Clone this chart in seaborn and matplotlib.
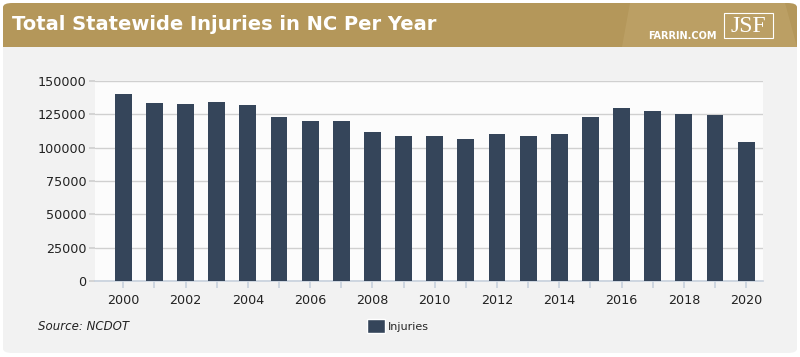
import numpy as np
import pandas as pd
import seaborn as sns
import matplotlib.pyplot as plt
from matplotlib.patches import FancyBboxPatch, Rectangle, Polygon, Patch

# =====================
# data
# =====================
years = [str(y) for y in range(2000, 2021)]
injuries = [140000, 133200, 132700, 134000, 132200, 123100, 119700, 119700,
            112100, 109100, 108600, 106300, 109900, 108400, 110100, 122700,
            129400, 127400, 125200, 124600, 104600]
y_ticks = [0, 25000, 50000, 75000, 100000, 125000, 150000]

title = 'Total Statewide Injuries in NC Per Year'
source = 'Source: NCDOT'
series_name = 'Injuries'

# colours
gold = '#B4975A'
panel = '#F2F2F2'
bar_col = '#35455A'
grid_col = '#D0D0D0'

df = pd.DataFrame({'year': years, 'injuries': injuries})

sns.set_theme(style='white')
plt.rcParams['font.family'] = ['DejaVu Sans']

W, H = 800, 357
fig = plt.figure(figsize=(W / 100, H / 100), dpi=100)
fig.patch.set_facecolor('white')

# rounded grey panel and gold header
fig.patches.append(FancyBboxPatch((3 / W, 4 / H), 794 / W, 350 / H,
                                  boxstyle='round,pad=0,rounding_size=0.012',
                                  transform=fig.transFigure, facecolor=panel,
                                  edgecolor='none', zorder=-3))
fig.patches.append(FancyBboxPatch((3 / W, (H - 47) / H), 794 / W, 44 / H,
                                  boxstyle='round,pad=0,rounding_size=0.012',
                                  transform=fig.transFigure, facecolor=gold,
                                  edgecolor='none', zorder=-2))
fig.patches.append(Rectangle((3 / W, (H - 47) / H), 794 / W, 20 / H,
                             transform=fig.transFigure, facecolor=gold,
                             edgecolor='none', zorder=-2))
# lighter diagonal band in header
fig.patches.append(Polygon([(622 / W, (H - 47) / H), (630 / W, (H - 3) / H),
                            (785 / W, (H - 3) / H), (797 / W, (H - 47) / H)],
                           closed=True, transform=fig.transFigure,
                           facecolor='#C4AA72', edgecolor='none', alpha=0.45, zorder=-1))

fig.text(12 / W, (H - 24) / H, title, color='white', fontsize=14, fontweight='bold',
         family=['DejaVu Sans'], va='center', ha='left', zorder=5)
fig.text(648 / W, (H - 36) / H, 'FARRIN.COM', color='white', fontsize=7,
         fontweight='bold', va='center', ha='left', zorder=5)
fig.patches.append(Rectangle((724 / W, (H - 38) / H), 49 / W, 25 / H,
                             transform=fig.transFigure, facecolor='none',
                             edgecolor='white', linewidth=0.8, zorder=5))
fig.text(748.5 / W, (H - 26) / H, 'JSF', color='white', fontsize=17,
         family=['Liberation Serif'], va='center', ha='center', zorder=6)

# plot area
ax = fig.add_axes([95 / W, (H - 281) / H, 668 / W, 200 / H])
ax.set_zorder(10)
ax.set_facecolor('#FCFCFC')
sns.barplot(data=df, x='year', y='injuries', color=bar_col, width=0.54,
            saturation=1, linewidth=0, ax=ax, zorder=3)

ax.set_ylim(0, 150000)
ax.set_xlim(-0.91, 20.54)
ax.set_yticks(y_ticks)
ax.set_yticklabels([str(v) for v in y_ticks])
ax.set_xticks(range(len(years)))
ax.set_xticklabels([y if i % 2 == 0 else '' for i, y in enumerate(years)])
ax.set_xlabel('')
ax.set_ylabel('')
ax.yaxis.grid(True, color=grid_col, linewidth=1)
ax.set_axisbelow(True)
for side in ['top', 'right', 'left']:
    ax.spines[side].set_visible(False)
ax.spines['bottom'].set_color('#C9D2DE')
ax.tick_params(axis='y', length=4, color=grid_col, labelsize=9.2, pad=2,
               labelcolor='#222222', left=True)
ax.tick_params(axis='x', length=5, color='#C9D2DE', labelsize=9.2, pad=4,
               labelcolor='#222222', bottom=True)

fig.text(38 / W, (H - 327) / H, source, fontsize=8.5, style='italic',
         color='#222222', va='center', ha='left')
fig.legend(handles=[Patch(facecolor=bar_col, label=series_name)],
           loc='center left', bbox_to_anchor=(357 / W, (H - 326) / H),
           frameon=False, fontsize=8, handlelength=1.6, handleheight=1.6,
           handletextpad=0.3)

fig.savefig('out.png', dpi=100, facecolor=fig.get_facecolor())
